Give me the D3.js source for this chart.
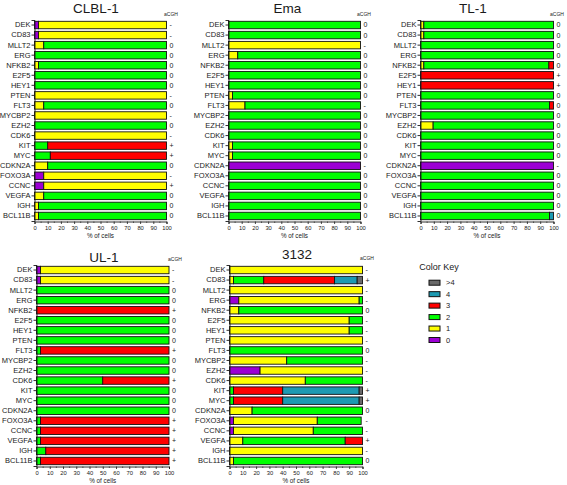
<!DOCTYPE html>
<html><head><meta charset="utf-8">
<script src="https://cdn.jsdelivr.net/npm/d3@7"></script>
<style>
body{margin:0;background:#fff;}
text{font-family:"Liberation Sans",Arial,sans-serif;fill:#1a1a1a;}
</style></head>
<body><svg id="c" width="567" height="485"></svg>
<script>
const genes = ["DEK","CD83","MLLT2","ERG","NFKB2","E2F5","HEY1","PTEN","FLT3","MYCBP2","EZH2","CDK6","KIT","MYC","CDKN2A","FOXO3A","CCNC","VEGFA","IGH","BCL11B"];
const states = ["0","1","2","3","4",">4"];
const stateColors = ["#9c00d4","#ffff00","#00ff00","#ff0000","#1c9ab2","#6a6a6a"];
const xTicks = [0,10,20,30,40,50,60,70,80,90,100];

// per gene: % of cells in states [0,1,2,3,4,>4]
const clbl1 = [[3,97],[3,97],[0,7,93],[0,0,100],[0,3,97],[0,0,100],[0,0,100],[0,100],[0,7,93],[0,100],
  [0,0,100],[0,100],[0,0,10,90],[0,0,12,88],[0,10,90],[7,93],[7,93],[0,7,93],[0,3,97],[0,3,97]];
const clbl1Acgh = ["-","-","0","0","0","0","0","-","0","-","0","-","+","+","0","-","+","0","0","0"];

const ema = [[0,0,100],[0,0,100],[0,100],[0,7,93],[0,0,100],[0,0,100],[0,0,100],[0,3,97],[0,12.5,87.5],[0,0,100],
  [0,0,100],[0,0,100],[0,3,97],[0,3,97],[100],[0,0,100],[0,0,100],[0,0,100],[0,0,100],[0,0,100]];
const emaAcgh = ["0","0","-","0","0","0","0","0","-","0","0","0","0","0","-","0","0","0","0","0"];

const tl1 = [[0,2.5,97.5],[0,2.5,97.5],[0,0,100],[0,0,100],[0,2.5,94,3.5],[0,0,0,100],[0,0,0,100],[0,0,100],[0,0,97,3],[0,0,100],
  [0,9.5,90.5],[0,0,100],[0,0,100],[0,0,100],[100],[0,0,100],[0,0,100],[0,0,100],[0,0,100],[0,0,97,0,3]];
const tl1Acgh = ["0","0","0","0","0","+","+","0","0","0","0","0","0","0","-","0","0","0","0","0"];

const ul1 = [[3,97],[3,97],[0,0,100],[0,0,100],[0,0,0,100],[0,0,100],[0,0,100],[0,0,100],[0,0,3,97],[0,0,100],
  [0,0,100],[0,0,50,50],[0,0,100],[0,0,100],[0,0,100],[0,0,3,97],[0,0,3,97],[0,0,3,97],[0,0,7,93],[0,0,3,97]];
const ul1Acgh = ["-","-","0","0","+","0","0","0","+","0","0","+","0","0","0","+","+","+","+","+"];

const s3132 = [[0,100],[0,3,22.75,53.25,17,4],[0,100],[7,90.5,2.5],[0,7,93],[0,90,10],[0,90,10],[0,100],[0,0,100],[0,43,57],
  [23,77],[0,57,43],[0,0,3,37,57.5,2.5],[0,0,3,37,57.5,2.5],[0,17,83],[3,63,33],[3,60,37],[0,10,77,13],[0,100],[0,3,97]];
const s3132Acgh = ["-","+","-","-","0","-","-","-","0","-","-","-","+","+","0","-","-","+","-","0"];

const panels = [
  {title:"CLBL-1", data:clbl1, acgh:clbl1Acgh, x0:34.5, x1:166.5, top:20, bottom:221, tx:96, ty:12.5, ax:171, ay:16},
  {title:"Ema", data:ema, acgh:emaAcgh, x0:228.5, x1:360.5, top:20, bottom:221, tx:287.5, ty:12.5, ax:364, ay:16},
  {title:"TL-1", data:tl1, acgh:tl1Acgh, x0:420.5, x1:553.5, top:20, bottom:221, tx:473, ty:12.5, ax:557, ay:16},
  {title:"UL-1", data:ul1, acgh:ul1Acgh, x0:36.5, x1:169, top:265, bottom:466, tx:104, ty:261.5, ax:175, ay:261},
  {title:"3132", data:s3132, acgh:s3132Acgh, x0:229.5, x1:362.5, top:265, bottom:466, tx:297, ty:259, ax:367, ay:260}
];

const svg = d3.select("#c");

panels.forEach(p => {
  const x = d3.scaleLinear().domain([0,100]).range([p.x0,p.x1]);
  const y = d3.scaleBand().domain(genes).range([p.top,p.bottom]).paddingInner(0.26).paddingOuter(0.13);
  const g = svg.append("g");

  genes.forEach((gene,i) => {
    const vals = p.data[i];
    let acc = 0;
    const segs = [];
    vals.forEach((v,k) => { if (v>0) segs.push({k, a:acc, b:acc+v}); acc += v; });
    g.selectAll(null).data(segs).enter().append("rect")
      .attr("x", d => x(d.a)).attr("width", d => x(d.b)-x(d.a))
      .attr("y", y(gene)).attr("height", y.bandwidth())
      .attr("fill", d => stateColors[d.k])
      .attr("stroke", "#111").attr("stroke-width", 0.9);
  });

  const ya = g.append("g").attr("transform", `translate(${p.x0},0)`)
    .call(d3.axisLeft(y).tickSize(3).tickPadding(1));
  ya.select(".domain").attr("stroke","#1a1a1a").attr("stroke-width",0.9);
  ya.selectAll(".tick line").attr("stroke","#1a1a1a").attr("stroke-width",0.9);
  ya.selectAll("text").style("font-size","7.5px").attr("fill","#1a1a1a");

  const xa = g.append("g").attr("transform", `translate(0,${p.bottom+0.5})`)
    .call(d3.axisBottom(x).tickValues(xTicks).tickSize(2.5).tickPadding(1.5));
  xa.select(".domain").attr("stroke","#1a1a1a").attr("stroke-width",0.9);
  xa.selectAll(".tick line").attr("stroke","#1a1a1a").attr("stroke-width",0.8);
  xa.selectAll("text").style("font-size","5.8px").attr("fill","#1a1a1a");
  const minor = d3.range(5,100,10);
  g.selectAll(null).data(minor).enter().append("line")
    .attr("x1", d=>x(d)).attr("x2", d=>x(d))
    .attr("y1", p.bottom+0.5).attr("y2", p.bottom+2)
    .attr("stroke","#1a1a1a").attr("stroke-width",0.6);
  g.append("text").attr("x",(p.x0+p.x1)/2).attr("y",p.bottom+16.5)
    .attr("text-anchor","middle").style("font-size","6.3px").text("% of cells");

  g.append("text").attr("x",p.tx).attr("y",p.ty).attr("text-anchor","middle")
    .style("font-size","13.5px").text(p.title);

  g.append("text").attr("x",p.ax).attr("y",p.ay).attr("text-anchor","middle")
    .style("font-size","5px").text("aCGH");
  g.selectAll(null).data(genes).enter().append("text")
    .attr("x", p.x1+3).attr("y", d => y(d)+y.bandwidth()/2)
    .attr("dy","0.35em").style("font-size","7px")
    .text((d,i) => p.acgh[i]);
});

const lg = svg.append("g");
lg.append("text").attr("x",439).attr("y",270).attr("text-anchor","middle")
  .style("font-size","9px").text("Color Key");
const legendOrder = [5,4,3,2,1,0];
const ly = d3.scalePoint().domain(legendOrder).range([282.7,340]);
lg.selectAll(null).data(legendOrder).enter().append("rect")
  .attr("x",429).attr("y",d=>ly(d)-2.5).attr("width",11).attr("height",5)
  .attr("fill",d=>stateColors[d]).attr("stroke","#111").attr("stroke-width",1);
lg.selectAll(null).data(legendOrder).enter().append("text")
  .attr("x",446).attr("y",d=>ly(d)).attr("dy","0.35em")
  .style("font-size","7.5px").text(d=>states[d]);
</script></body></html>
